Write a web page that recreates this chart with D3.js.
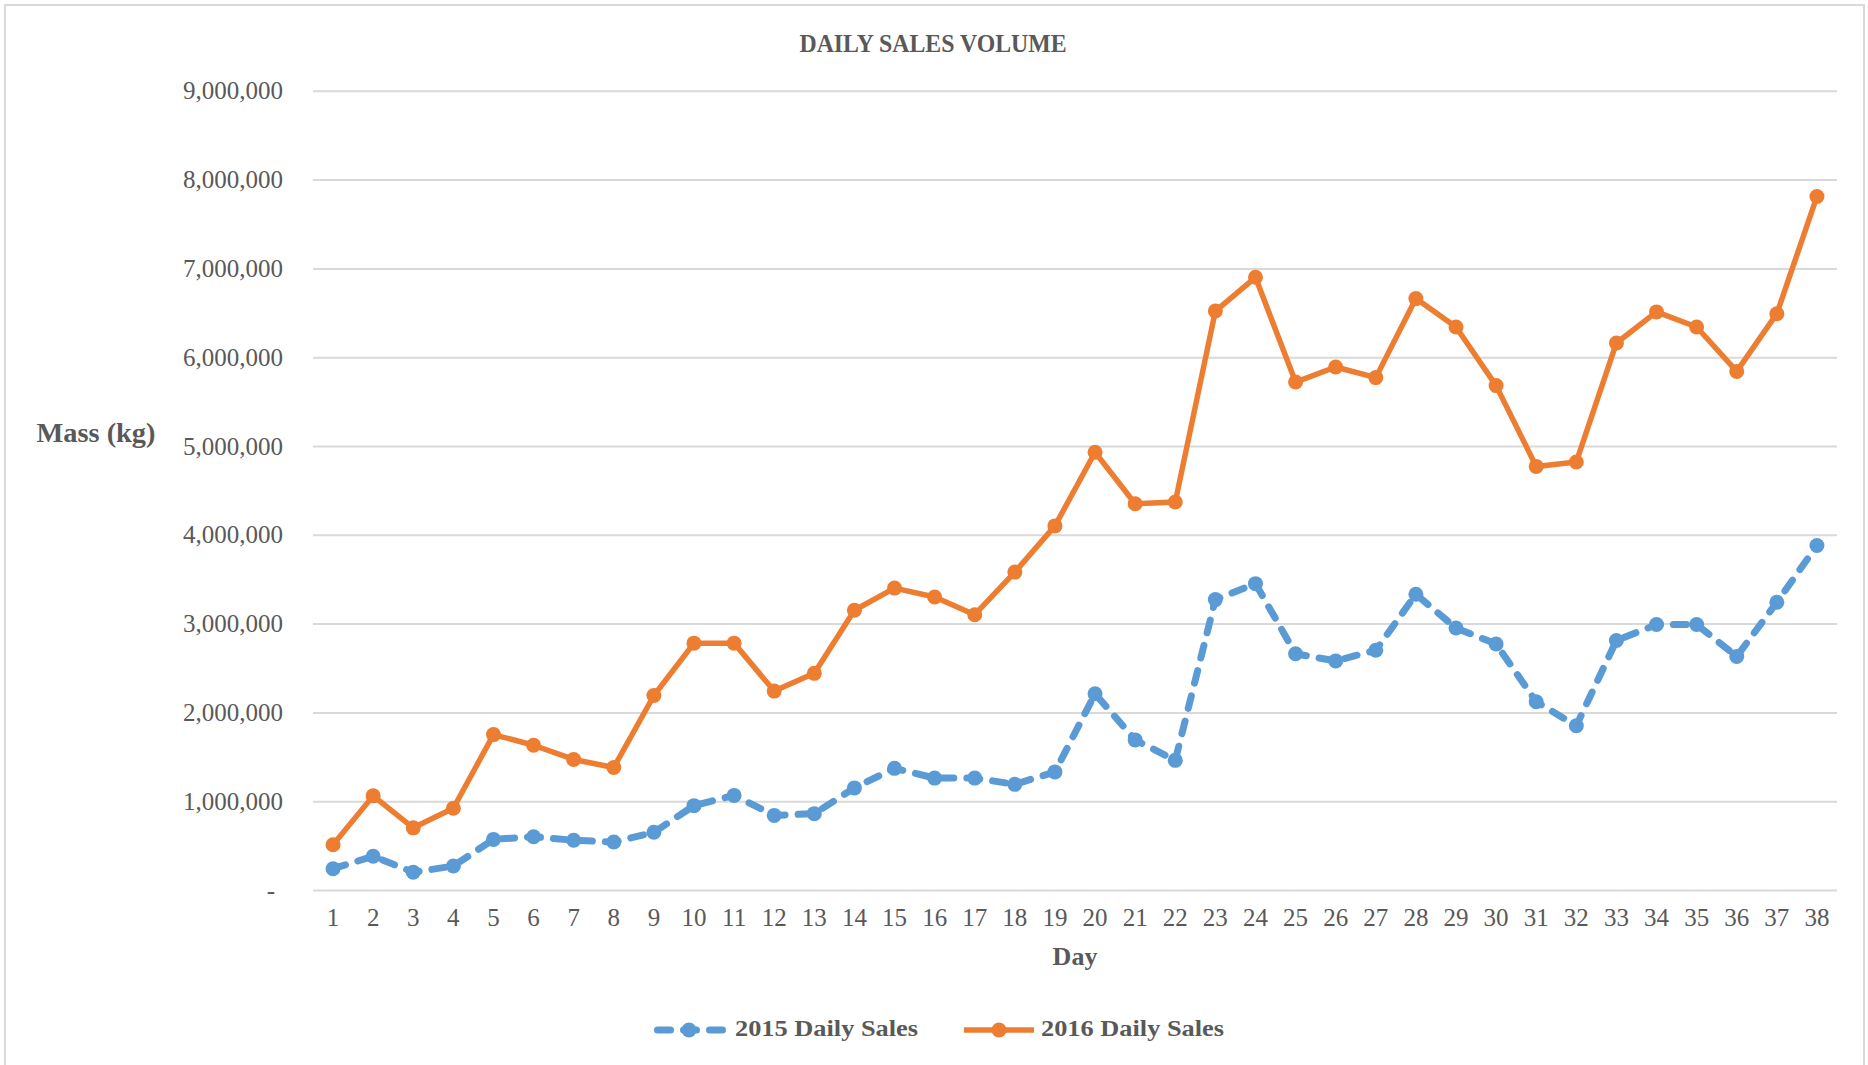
<!DOCTYPE html>
<html>
<head>
<meta charset="utf-8">
<script src="https://cdn.jsdelivr.net/npm/d3@7"></script>
<style>
  body { margin: 0; background: #fff; }
  text { font-family: "Liberation Serif", "DejaVu Serif", serif; fill: #595959; }
</style>
</head>
<body>
<div class="chart"></div>
<script>
  'use strict';

  // Days along the x axis
  var days = [1, 2, 3, 4, 5, 6, 7, 8, 9, 10, 11, 12, 13, 14, 15, 16, 17, 18, 19,
              20, 21, 22, 23, 24, 25, 26, 27, 28, 29, 30, 31, 32, 33, 34, 35, 36, 37, 38];

  // Mass (kg) sold each day
  var sales2015 = [240000, 380000, 200000, 270000, 570000, 600000, 560000, 540000, 650000, 950000,
                   1065000, 840000, 860000, 1150000, 1370000, 1260000, 1260000, 1190000, 1330000, 2210000,
                   1690000, 1460000, 3270000, 3450000, 2660000, 2580000, 2700000, 3330000, 2950000, 2770000,
                   2120000, 1850000, 2810000, 2990000, 2990000, 2630000, 3240000, 3880000];

  var sales2016 = [510000, 1060000, 700000, 920000, 1750000, 1630000, 1470000, 1380000, 2190000, 2780000,
                   2780000, 2240000, 2440000, 3150000, 3400000, 3300000, 3100000, 3580000, 4100000, 4930000,
                   4350000, 4370000, 6520000, 6900000, 5720000, 5890000, 5770000, 6660000, 6340000, 5680000,
                   4770000, 4820000, 6160000, 6510000, 6340000, 5840000, 6490000, 7810000];

  var yTicks = [0, 1000000, 2000000, 3000000, 4000000, 5000000, 6000000, 7000000, 8000000, 9000000];
  var seriesNames = ['2015 Daily Sales', '2016 Daily Sales'];

  var width = 1868,
      height = 1065,
      plot = { left: 313, right: 1837, top: 90.8, bottom: 890 };

  var blue = '#5B9BD5',
      orange = '#ED7D31',
      markerR = 7.5;

  var svg = d3.select('.chart')
    .append('svg')
    .attr('width', width)
    .attr('height', height);

  // chart border
  svg.append('rect')
    .attr('x', 5).attr('y', 5)
    .attr('width', 1859).attr('height', 1080)
    .attr('fill', 'white')
    .attr('stroke', '#d9d9d9')
    .attr('stroke-width', 2);

  var x = d3.scaleBand().domain(days).range([plot.left, plot.right]);
  var xc = function(d) { return x(d) + x.bandwidth() / 2; };
  var y = d3.scaleLinear().domain([0, 9000000]).range([plot.bottom, plot.top]);

  // y axis + gridlines
  var yAxis = svg.append('g')
    .attr('transform', 'translate(' + plot.left + ',0)')
    .call(d3.axisLeft(y)
      .tickValues(yTicks)
      .tickSize(-(plot.right - plot.left))
      .tickPadding(30)
      .tickFormat(function(d) { return d === 0 ? '-' : d3.format(',')(d); }));
  yAxis.select('.domain').remove();
  yAxis.selectAll('line').attr('stroke', '#d9d9d9').attr('stroke-width', 2);
  yAxis.selectAll('text')
    .style('font-size', '25px')
    .attr('fill', '#595959')
    .attr('dx', function(d) { return d === 0 ? -8 : 0; });

  // x axis labels
  var xAxis = svg.append('g')
    .attr('transform', 'translate(0,' + plot.bottom + ')')
    .call(d3.axisBottom(x).tickSize(0).tickPadding(18));
  xAxis.select('.domain').remove();
  xAxis.selectAll('text').style('font-size', '25px').attr('fill', '#595959');

  // titles
  svg.append('text')
    .attr('x', 933).attr('y', 52)
    .attr('text-anchor', 'middle')
    .style('font-size', '26px').style('font-weight', 'bold')
    .attr('textLength', 267).attr('lengthAdjust', 'spacingAndGlyphs')
    .text('DAILY SALES VOLUME');

  svg.append('text')
    .attr('x', 96).attr('y', 442)
    .attr('text-anchor', 'middle')
    .style('font-size', '27px').style('font-weight', 'bold')
    .attr('textLength', 119).attr('lengthAdjust', 'spacingAndGlyphs')
    .text('Mass (kg)');

  svg.append('text')
    .attr('x', (plot.left + plot.right) / 2).attr('y', 965)
    .attr('text-anchor', 'middle')
    .style('font-size', '26px').style('font-weight', 'bold')
    .text('Day');

  var line = d3.line()
    .x(function(d, i) { return xc(days[i]); })
    .y(function(d) { return y(d); });

  // 2015 series: dashed
  svg.append('path')
    .datum(sales2015)
    .attr('d', line)
    .attr('fill', 'none')
    .attr('stroke', blue)
    .attr('stroke-width', 7)
    .attr('stroke-linecap', 'round')
    .attr('stroke-linejoin', 'round')
    .attr('stroke-dasharray', '13,13');

  svg.append('g').selectAll('circle')
    .data(sales2015)
    .enter().append('circle')
    .attr('cx', function(d, i) { return xc(days[i]); })
    .attr('cy', function(d) { return y(d); })
    .attr('r', markerR)
    .attr('fill', blue);

  // 2016 series: solid
  svg.append('path')
    .datum(sales2016)
    .attr('d', line)
    .attr('fill', 'none')
    .attr('stroke', orange)
    .attr('stroke-width', 5.5)
    .attr('stroke-linejoin', 'round');

  svg.append('g').selectAll('circle')
    .data(sales2016)
    .enter().append('circle')
    .attr('cx', function(d, i) { return xc(days[i]); })
    .attr('cy', function(d) { return y(d); })
    .attr('r', markerR)
    .attr('fill', orange);

  // legend
  var legend = [
    { name: seriesNames[0], color: blue, x0: 654, dash: '13,13', w: 7, cap: 'round', tx: 735, tlen: 183 },
    { name: seriesNames[1], color: orange, x0: 964, dash: null, w: 5.5, cap: 'butt', tx: 1041, tlen: 183 }
  ];
  var lg = svg.append('g').selectAll('g').data(legend).enter().append('g');
  lg.append('line')
    .attr('x1', function(d) { return d.x0 + (d.cap === 'round' ? 3.5 : 0); })
    .attr('x2', function(d) { return d.x0 + 70; })
    .attr('y1', 1030).attr('y2', 1030)
    .attr('stroke', function(d) { return d.color; })
    .attr('stroke-width', function(d) { return d.w; })
    .attr('stroke-linecap', function(d) { return d.cap; })
    .attr('stroke-dasharray', function(d) { return d.dash; });
  lg.append('circle')
    .attr('cx', function(d) { return d.x0 + 35; })
    .attr('cy', 1030)
    .attr('r', markerR)
    .attr('fill', function(d) { return d.color; });
  lg.append('text')
    .attr('x', function(d) { return d.tx; })
    .attr('y', 1036)
    .style('font-size', '24px').style('font-weight', 'bold')
    .attr('textLength', function(d) { return d.tlen; })
    .attr('lengthAdjust', 'spacingAndGlyphs')
    .text(function(d) { return d.name; });
</script>
</body>
</html>
